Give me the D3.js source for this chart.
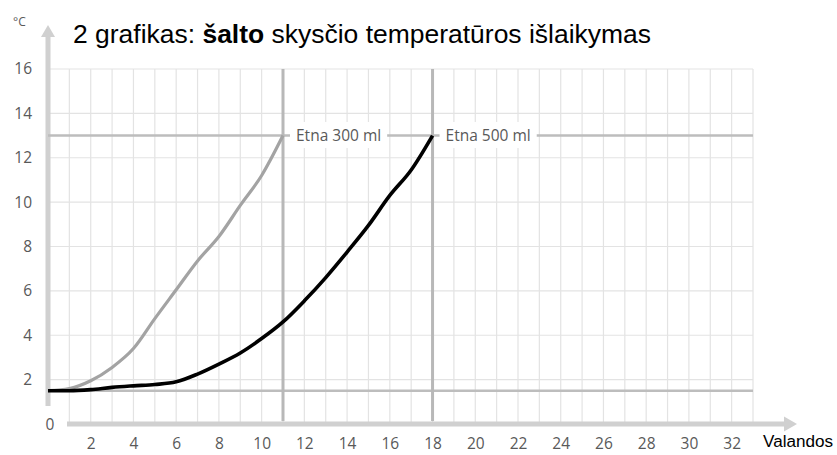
<!DOCTYPE html>
<html>
<head>
<meta charset="utf-8">
<script src="https://cdn.jsdelivr.net/npm/d3@7"></script>
<style>
  body { margin: 0; background: #fff; }
  svg { display: block; }
</style>
</head>
<body>
<div id="chart"></div>
<script>
// Duomenys
const hours = d3.range(0, 19);
const etna300 = [1.5, 1.6, 1.95, 2.55, 3.4, 4.75, 6.05, 7.35, 8.45, 9.85, 11.2, 13];
const etna500 = [1.5, 1.5, 1.55, 1.65, 1.72, 1.78, 1.9, 2.25, 2.7, 3.2, 3.85, 4.6, 5.55, 6.6, 7.75, 8.95, 10.3, 11.45, 13];
const xTicks = d3.range(2, 33, 2);
const yTicks = d3.range(2, 17, 2);
const startTemp = 1.5, targetTemp = 13;
const ends = [{h: 11, label: 'Etna 300 ml'}, {h: 18, label: 'Etna 500 ml'}];

const width = 837, height = 455;
const tickFont = '"Open Sans", sans-serif';
const tickSize = 15.5;

const svg = d3.select('#chart').append('svg')
    .attr('width', width)
    .attr('height', height);

const x = d3.scaleLinear().domain([0, 33]).range([48, 753]);
const y = d3.scaleLinear().domain([0, 16]).range([424, 69]);

//Tinklelis
svg.append('g')
    .selectAll('line')
    .data(d3.range(1, 34))
    .enter().append('line')
    .attr('x1', d => x(d)).attr('x2', d => x(d))
    .attr('y1', y(16)).attr('y2', y(0))
    .attr('stroke', '#e3e3e3').attr('stroke-width', 1.2);

svg.append('g')
    .selectAll('line')
    .data(yTicks)
    .enter().append('line')
    .attr('x1', x(0)).attr('x2', x(33))
    .attr('y1', d => y(d)).attr('y2', d => y(d))
    .attr('stroke', '#e3e3e3').attr('stroke-width', 1.2);

//Ašys
const axisColor = '#d0d0d0';
svg.append('line')
    .attr('x1', x(0)).attr('x2', x(0))
    .attr('y1', 36).attr('y2', 406)
    .attr('stroke', axisColor).attr('stroke-width', 5);
svg.append('path')
    .attr('d', `M${x(0)},25 L${x(0) + 7},37 L${x(0) - 7},37 Z`)
    .attr('fill', axisColor);

svg.append('line')
    .attr('x1', 67).attr('x2', 785)
    .attr('y1', y(0)).attr('y2', y(0))
    .attr('stroke', axisColor).attr('stroke-width', 5);
svg.append('path')
    .attr('d', `M797,${y(0)} L784,${y(0) - 7.5} L784,${y(0) + 7.5} Z`)
    .attr('fill', axisColor);

//Pagalbinės linijos
const refColor = '#bdbdbd';
svg.append('line')
    .attr('x1', x(0)).attr('x2', x(33))
    .attr('y1', y(startTemp)).attr('y2', y(startTemp))
    .attr('stroke', refColor).attr('stroke-width', 2.5);

svg.append('line')
    .attr('x1', x(0)).attr('x2', x(33))
    .attr('y1', y(targetTemp)).attr('y2', y(targetTemp))
    .attr('stroke', refColor).attr('stroke-width', 2.5);

svg.selectAll('.vref')
    .data(ends)
    .enter().append('line')
    .attr('class', 'vref')
    .attr('x1', d => x(d.h)).attr('x2', d => x(d.h))
    .attr('y1', y(16)).attr('y2', y(0) - 3)
    .attr('stroke', '#b8b8b8').attr('stroke-width', 3);

//Etiketės
ends.forEach(function(e) {
    const t = svg.append('text')
        .attr('x', x(e.h) + 13)
        .attr('y', y(targetTemp))
        .attr('dy', '0.35em')
        .attr('font-family', tickFont)
        .attr('font-size', tickSize)
        .attr('fill', '#595959')
        .text(e.label);
    const bb = t.node().getBBox();
    svg.insert('rect', 'text')
        .attr('x', bb.x - 6).attr('y', bb.y - 2)
        .attr('width', bb.width + 12).attr('height', bb.height + 4)
        .attr('fill', '#fff');
});

//Kreivės
const line = d3.line()
    .x((d, i) => x(hours[i]))
    .y(d => y(d))
    .curve(d3.curveMonotoneX);

svg.append('path')
    .datum(etna300)
    .attr('d', line)
    .attr('fill', 'none')
    .attr('stroke', '#a3a3a3')
    .attr('stroke-width', 3.2)
    .attr('stroke-linejoin', 'round');

svg.append('path')
    .datum(etna500)
    .attr('d', line)
    .attr('fill', 'none')
    .attr('stroke', '#000')
    .attr('stroke-width', 3.6)
    .attr('stroke-linejoin', 'round');

//Ašių žymės
const xAxis = svg.append('g')
    .attr('transform', `translate(0,${y(0)})`)
    .call(d3.axisBottom(x).tickValues(xTicks).tickSize(0).tickPadding(14));
const yAxis = svg.append('g')
    .attr('transform', 'translate(32,0)')
    .call(d3.axisLeft(y).tickValues(yTicks).tickSize(0).tickPadding(0));

[xAxis, yAxis].forEach(function(a) {
    a.select('.domain').remove();
    a.selectAll('text')
        .attr('font-family', tickFont)
        .attr('font-size', tickSize)
        .attr('fill', '#595959');
});

svg.append('text')
    .attr('x', 50).attr('y', y(0) + 1)
    .attr('dy', '0.35em')
    .attr('text-anchor', 'middle')
    .attr('font-family', tickFont)
    .attr('font-size', tickSize)
    .attr('fill', '#595959')
    .text('0');

svg.append('text')
    .attr('x', 13).attr('y', 26)
    .attr('font-family', tickFont)
    .attr('font-size', 12)
    .attr('fill', '#595959')
    .text('°C');

svg.append('text')
    .attr('x', 763).attr('y', 447)
    .attr('font-family', 'Liberation Sans, Arial, sans-serif')
    .attr('font-size', 16)
    .attr('fill', '#000')
    .attr('textLength', 70)
    .attr('lengthAdjust', 'spacingAndGlyphs')
    .text('Valandos');

//Pavadinimas
const title = svg.append('text')
    .attr('x', 73).attr('y', 43)
    .attr('font-family', 'Liberation Sans, Arial, sans-serif')
    .attr('font-size', 26)
    .attr('fill', '#000')
    .attr('textLength', 578)
    .attr('lengthAdjust', 'spacingAndGlyphs');
title.append('tspan').text('2 grafikas: ');
title.append('tspan').attr('font-weight', 'bold').text('šalto');
title.append('tspan').text(' skysčio temperatūros išlaikymas');
</script>
</body>
</html>
